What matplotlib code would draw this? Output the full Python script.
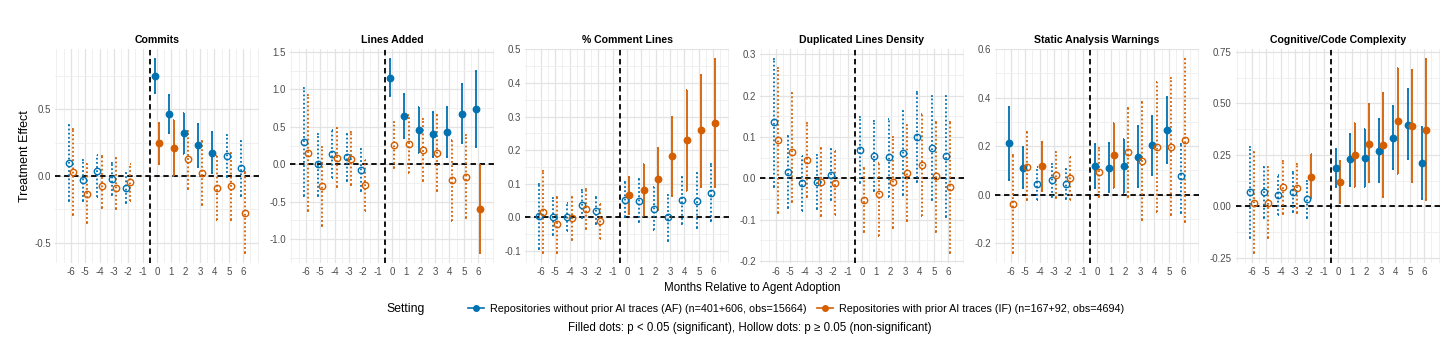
import matplotlib
matplotlib.use("Agg")
import matplotlib.pyplot as plt
from matplotlib.lines import Line2D
from matplotlib.ticker import MultipleLocator, FormatStrFormatter

plt.rcParams['font.family'] = ['Liberation Sans', 'DejaVu Sans']
plt.rcParams['axes.unicode_minus'] = False

months = [-6, -5, -4, -3, -2, 0, 1, 2, 3, 4, 5, 6]
tick_months = list(range(-6, 7))

titles = ["Commits", "Lines Added", "% Comment Lines", "Duplicated Lines Density",
          "Static Analysis Warnings", "Cognitive/Code Complexity"]

# --- Commits
commits_af = [0.099, -0.027, 0.037, -0.02, -0.087, 0.75, 0.465, 0.32, 0.23, 0.176, 0.153, 0.057]
commits_af_lo = [-0.19, -0.19, -0.16, -0.14, -0.2, 0.62, 0.32, 0.166, 0.067, 0.025, -0.01, -0.15]
commits_af_hi = [0.38, 0.12, 0.16, 0.10, 0.025, 0.88, 0.61, 0.47, 0.39, 0.33, 0.31, 0.26]
commits_af_sig = [0, 0, 0, 0, 0, 1, 1, 1, 1, 1, 0, 0]
commits_if = [0.03, -0.134, -0.077, -0.09, -0.047, 0.245, 0.213, 0.124, 0.02, -0.087, -0.077, -0.277]
commits_if_lo = [-0.29, -0.354, -0.24, -0.25, -0.19, 0.087, 0.003, -0.1, -0.22, -0.33, -0.33, -0.58]
commits_if_hi = [0.35, 0.087, 0.15, 0.136, 0.087, 0.40, 0.42, 0.34, 0.26, 0.15, 0.17, 0.03]
commits_if_sig = [0, 0, 0, 0, 0, 1, 1, 0, 0, 0, 0, 0]

# --- Lines Added
added_af = [0.30, 0.0, 0.137, 0.10, -0.08, 1.155, 0.646, 0.456, 0.40, 0.425, 0.677, 0.74]
added_af_lo = [-0.42, -0.42, -0.18, -0.23, -0.36, 0.91, 0.345, 0.146, 0.10, 0.10, 0.29, 0.226]
added_af_hi = [1.02, 0.41, 0.46, 0.41, 0.20, 1.41, 0.94, 0.765, 0.70, 0.76, 1.07, 1.25]
added_af_sig = [0, 0, 0, 0, 0, 1, 1, 1, 1, 1, 1, 1]
added_if = [0.146, -0.29, 0.08, 0.075, -0.283, 0.257, 0.27, 0.19, 0.146, -0.217, -0.168, -0.597]
added_if_lo = [-0.63, -0.83, -0.31, -0.28, -0.62, -0.05, -0.12, -0.23, -0.36, -0.76, -0.72, -1.19]
added_if_hi = [0.92, 0.235, 0.48, 0.43, 0.057, 0.57, 0.66, 0.61, 0.66, 0.33, 0.39, -0.005]
added_if_sig = [0, 0, 0, 0, 0, 0, 0, 0, 0, 0, 0, 1]

# --- % Comment Lines
comment_af = [0.004, 0.0, 0.002, 0.038, 0.02, 0.051, 0.049, 0.025, 0.0, 0.051, 0.049, 0.073]
comment_af_lo = [-0.094, -0.054, -0.041, -0.003, -0.02, 0.0, -0.015, -0.037, -0.069, -0.02, -0.032, -0.012]
comment_af_hi = [0.10, 0.057, 0.042, 0.082, 0.059, 0.104, 0.114, 0.089, 0.067, 0.121, 0.131, 0.158]
comment_af_sig = [0, 0, 0, 0, 0, 0, 0, 0, 0, 0, 0, 0]
comment_if = [0.015, -0.021, -0.003, 0.025, -0.01, 0.065, 0.082, 0.115, 0.183, 0.229, 0.259, 0.28]
comment_if_lo = [-0.107, -0.107, -0.067, -0.035, -0.064, 0.01, 0.005, 0.023, 0.064, 0.079, 0.091, 0.089]
comment_if_hi = [0.138, 0.061, 0.059, 0.084, 0.039, 0.12, 0.158, 0.205, 0.30, 0.38, 0.424, 0.472]
comment_if_sig = [0, 0, 0, 0, 0, 1, 1, 1, 1, 1, 1, 1]

# --- Duplicated Lines Density
dup_af = [0.135, 0.016, -0.012, -0.008, 0.009, 0.069, 0.053, 0.052, 0.062, 0.10, 0.073, 0.053]
dup_af_lo = [-0.02, -0.072, -0.079, -0.073, -0.053, -0.012, -0.031, -0.044, -0.041, -0.01, -0.052, -0.093]
dup_af_hi = [0.289, 0.102, 0.054, 0.056, 0.07, 0.148, 0.138, 0.144, 0.163, 0.208, 0.198, 0.2]
dup_af_sig = [0, 0, 0, 0, 0, 0, 0, 0, 0, 0, 0, 0]
dup_if = [0.092, 0.063, 0.044, -0.009, -0.012, -0.052, -0.039, -0.01, 0.013, 0.033, 0.005, -0.021]
dup_if_lo = [-0.084, -0.057, -0.045, -0.092, -0.088, -0.129, -0.139, -0.119, -0.103, -0.091, -0.129, -0.181]
dup_if_hi = [0.267, 0.206, 0.133, 0.073, 0.065, 0.025, 0.038, 0.10, 0.128, 0.155, 0.136, 0.136]
dup_if_sig = [0, 0, 0, 0, 0, 0, 0, 0, 0, 0, 0, 0]

# --- Static Analysis Warnings
static_af = [0.211, 0.11, 0.044, 0.059, 0.044, 0.116, 0.109, 0.118, 0.156, 0.204, 0.268, 0.075]
static_af_lo = [0.06, 0.026, -0.022, -0.008, -0.018, 0.026, 0.01, 0.005, 0.03, 0.08, 0.132, -0.075]
static_af_hi = [0.36, 0.197, 0.112, 0.125, 0.107, 0.21, 0.211, 0.23, 0.284, 0.325, 0.404, 0.21]
static_af_sig = [1, 1, 0, 0, 0, 1, 1, 1, 1, 1, 1, 0]
static_if = [-0.038, 0.114, 0.116, 0.082, 0.068, 0.091, 0.162, 0.175, 0.139, 0.197, 0.197, 0.224]
static_if_lo = [-0.242, -0.024, 0.014, -0.015, -0.024, -0.008, 0.026, -0.008, -0.103, -0.072, -0.086, -0.113]
static_if_hi = [0.162, 0.257, 0.218, 0.177, 0.156, 0.19, 0.295, 0.356, 0.38, 0.465, 0.479, 0.56]
static_if_sig = [0, 0, 1, 0, 0, 0, 1, 0, 0, 0, 0, 0]

# --- Cognitive/Code Complexity
cplx_af = [0.069, 0.069, 0.056, 0.069, 0.034, 0.188, 0.228, 0.233, 0.268, 0.332, 0.396, 0.209]
cplx_af_lo = [-0.155, -0.054, -0.04, -0.027, -0.056, 0.093, 0.10, 0.093, 0.117, 0.18, 0.228, 0.037]
cplx_af_hi = [0.29, 0.19, 0.153, 0.165, 0.125, 0.28, 0.353, 0.375, 0.425, 0.487, 0.567, 0.383]
cplx_af_sig = [0, 0, 0, 0, 0, 1, 1, 1, 1, 1, 1, 1]
cplx_if = [0.018, 0.016, 0.096, 0.088, 0.145, 0.118, 0.249, 0.305, 0.297, 0.415, 0.388, 0.372]
cplx_if_lo = [-0.227, -0.155, -0.035, -0.032, 0.042, 0.018, 0.096, 0.117, 0.045, 0.157, 0.117, 0.029]
cplx_if_hi = [0.264, 0.189, 0.22, 0.204, 0.252, 0.22, 0.403, 0.497, 0.548, 0.673, 0.663, 0.716]
cplx_if_sig = [0, 0, 0, 0, 1, 1, 1, 1, 1, 1, 1, 1]

af_series = [
    (commits_af, commits_af_lo, commits_af_hi, commits_af_sig),
    (added_af, added_af_lo, added_af_hi, added_af_sig),
    (comment_af, comment_af_lo, comment_af_hi, comment_af_sig),
    (dup_af, dup_af_lo, dup_af_hi, dup_af_sig),
    (static_af, static_af_lo, static_af_hi, static_af_sig),
    (cplx_af, cplx_af_lo, cplx_af_hi, cplx_af_sig),
]
if_series = [
    (commits_if, commits_if_lo, commits_if_hi, commits_if_sig),
    (added_if, added_if_lo, added_if_hi, added_if_sig),
    (comment_if, comment_if_lo, comment_if_hi, comment_if_sig),
    (dup_if, dup_if_lo, dup_if_hi, dup_if_sig),
    (static_if, static_if_lo, static_if_hi, static_if_sig),
    (cplx_if, cplx_if_lo, cplx_if_hi, cplx_if_sig),
]
y_steps = [0.5, 0.5, 0.1, 0.1, 0.2, 0.25]
y_fmts = ['%.1f', '%.1f', '%.1f', '%.1f', '%.1f', '%.2f']

af_label = "Repositories without prior AI traces (AF) (n=401+606, obs=15664)"
if_label = "Repositories with prior AI traces (IF) (n=167+92, obs=4694)"
blue = '#0072B2'
orange = '#D55E00'

W, H = 1456, 352
fig = plt.figure(figsize=(W / 100, H / 100), dpi=100)

panel_left = [55, 290, 525, 760, 995, 1236]
panel_w = 204
panel_top, panel_bot = 49, 263

dotted = (0, (1, 1.3))
dashed = (0, (3, 2))


def draw_series(ax, est, lo, hi, sig, color, dx):
    for m, e, l, h, s in zip(months, est, lo, hi, sig):
        x = m + dx
        ls = '-' if s else dotted
        ax.vlines(x, l, h, colors=color, linestyles=ls, lw=1.3, zorder=3)
        ax.hlines([l, h], x - 0.06, x + 0.06, colors=color, linestyles=ls, lw=1.3, zorder=3)
        if s:
            ax.plot(x, e, 'o', ms=4.6, color=color, mec=color, zorder=4)
        else:
            ax.plot(x, e, 'o', ms=4.6, mfc='none', mec=color, mew=1.0, zorder=4)


for i in range(6):
    x0 = panel_left[i] / W
    ax = fig.add_axes([x0, 1 - panel_bot / H, panel_w / W, (panel_bot - panel_top) / H])
    a = af_series[i]
    b = if_series[i]
    lows = list(a[1]) + list(b[1])
    highs = list(a[2]) + list(b[2])
    lo, hi = min(lows), max(highs)
    pad = 0.05 * (hi - lo)
    ax.set_ylim(lo - pad, hi + pad)
    ax.set_xlim(-7.1, 7.1)

    ax.axhline(0, color='black', ls=dashed, lw=1.3, zorder=2)
    ax.axvline(-0.5, color='black', ls=dashed, lw=1.3, zorder=2)

    draw_series(ax, *a, blue, -0.15)
    draw_series(ax, *b, orange, 0.15)

    ax.set_xticks(tick_months)
    ax.xaxis.set_minor_locator(MultipleLocator(0.5))
    ax.yaxis.set_major_locator(MultipleLocator(y_steps[i]))
    ax.yaxis.set_minor_locator(MultipleLocator(y_steps[i] / 2))
    ax.yaxis.set_major_formatter(FormatStrFormatter(y_fmts[i]))
    ax.grid(which='major', color='#E3E3E3', lw=0.9, zorder=0)
    ax.grid(which='minor', color='#EEEEEE', lw=0.6, zorder=0)
    ax.set_axisbelow(True)
    for sp in ax.spines.values():
        sp.set_visible(False)
    ax.tick_params(which='both', length=0, labelsize=7, colors='#4D4D4D', pad=3)
    ax.set_title(titles[i], fontsize=7.6, fontweight='bold', pad=4)

fig.text(25 / W, 1 - 156 / H, "Treatment Effect", rotation=90, ha='center', va='center', fontsize=9)
fig.text(752 / W, 1 - 288 / H, "Months Relative to Agent Adoption", ha='center', va='center', fontsize=8.3)

handles = [Line2D([0], [0], color=blue, marker='o', ms=4, lw=1.2),
           Line2D([0], [0], color=orange, marker='o', ms=4, lw=1.2)]
fig.legend(handles, [af_label, if_label], loc='center', bbox_to_anchor=(796 / W, 1 - 309 / H),
           ncol=2, frameon=False, fontsize=7.75, handlelength=1.5, handletextpad=0.6,
           columnspacing=0.9, borderpad=0)
fig.text(425 / W, 1 - 309 / H, "Setting", ha='right', va='center', fontsize=8.8)
fig.text(750 / W, 1 - 328 / H,
         "Filled dots: p < 0.05 (significant), Hollow dots: p \u2265 0.05 (non-significant)",
         ha='center', va='center', fontsize=8.3)

fig.savefig("out.png", dpi=100, facecolor='white')
